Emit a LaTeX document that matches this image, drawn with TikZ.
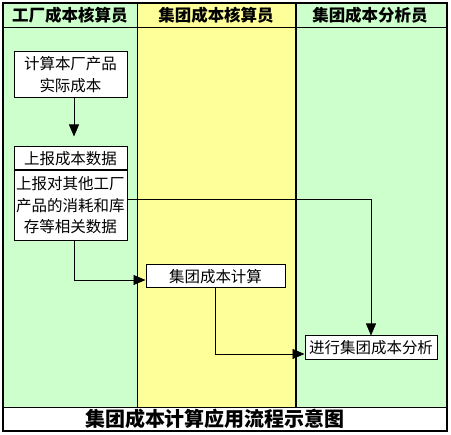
\documentclass[tikz,border=0pt]{standalone}
\usepackage{fontspec}
\newfontfamily\cjk{Noto Sans CJK SC}
\usetikzlibrary{arrows.meta,calc}
\definecolor{lanegreen}{HTML}{CCFFCC}
\definecolor{laneyellow}{HTML}{FFFF99}
\begin{document}
\begin{tikzpicture}[x=1pt,y=-1pt,
  box/.style={draw=black,fill=white,line width=1pt,inner sep=0pt,align=center,
    font=\cjk\fontsize{15.5}{22}\selectfont},
  head/.style={font=\cjk\bfseries\fontsize{16.5}{18}\selectfont,inner sep=0pt},
  flow/.style={draw=black,line width=0.8pt,-{Triangle[width=10pt,length=12pt]}}]
\useasboundingbox (0,0) rectangle (451,435);
\fill[white] (0,0) rectangle (451,435);
% lanes
\fill[lanegreen] (3,3) rectangle (137,407);
\fill[laneyellow] (137,3) rectangle (296,407);
\fill[lanegreen] (296,3) rectangle (447,407);
\fill[white] (3,407) rectangle (447,431);
\draw[line width=0.8pt] (3,27) -- (447,27);
\draw[line width=0.8pt] (137,3) -- (137,407);
\draw[line width=1.8pt] (296,3) -- (296,407);
\draw[line width=0.8pt] (3,407) -- (447,407);
\draw[line width=1.2pt] (3,3) rectangle (447,431);
% headers
\node[head] (h1) at (70,15) {工厂成本核算员};
\node[head] (h2) at (216,15) {集团成本核算员};
\node[head] (h3) at (370,15) {集团成本分析员};
% boxes
\node[box,minimum width=113pt,minimum height=46pt] (b1) at (70.5,75) {计算本厂产品\\实际成本};
\node[box,minimum width=113pt,minimum height=23pt] (b2) at (70.5,158.5) {上报成本数据};
\node[box,minimum width=113pt,minimum height=71pt,font=\cjk\fontsize{15.5}{21.5}\selectfont] (b3) at (70.5,205.5) {上报对其他工厂\\产品的消耗和库\\存等相关数据};
\draw[line width=1.8pt] (b2.south west) -- (b2.south east);
\node[box,minimum width=139pt,minimum height=23pt] (b4) at (215.5,276.5) {集团成本计算};
\node[box,minimum width=132pt,minimum height=24pt] (b5) at (371,348) {进行集团成本分析};
% connectors
\draw[flow] ([xshift=3.5pt]b1.south) -- ([xshift=3.5pt,yshift=10pt]b2.north);
\draw[flow] ([xshift=3.5pt]b3.south) |- ([yshift=-3.5pt]b4.west);
\draw[flow] ([yshift=6.5pt]b3.east) -| (b5.north);
\draw[flow] (b4.south) |- ([yshift=-6pt]b5.west);
% title
\node[font=\cjk\bfseries\fontsize{20}{22}\selectfont,inner sep=0pt] (title) at (215,419) {集团成本计算应用流程示意图};
\end{tikzpicture}
\end{document}
